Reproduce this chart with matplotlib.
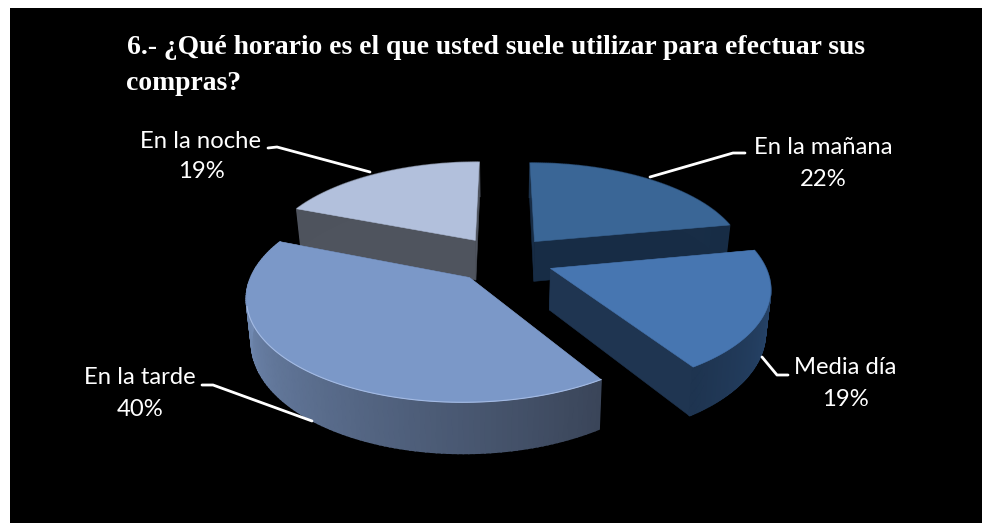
import numpy as np
import matplotlib
matplotlib.use("Agg")
import matplotlib.pyplot as plt
from matplotlib.patches import Polygon, Rectangle
from matplotlib.colors import to_rgb

# Survey results, clockwise from twelve o'clock
categories = ["En la mañana", "Media día", "En la tarde", "En la noche"]
values = [22, 19, 40, 19]
title_lines = ["6.- ¿Qué horario es el que usted suele utilizar para efectuar sus", "compras?"]

# Slice colours: top face, side colour at the start and at the end of the arc, radial wall
top_colors = ["#3a6696", "#4776b1", "#7b98c8", "#b2c0dc"]
side_start = ["#1a3049", "#2b4d78", "#3a4559", "#4e535d"]
side_end = ["#172c45", "#1e3450", "#7d99c6", "#4e535d"]
wall_colors = ["#172c45", "#1f3551", "#3a4559", "#4f545e"]

# Projection of the tilted pie onto the page
CX, CY = 503.0, 259.0
RX, RY = 212.0, 97.0
PERSPECTIVE = 0.167
DEPTH = 41.0
EXPLODE = 0.24


def project(u, v):
    k = 1.0 / (1.0 + PERSPECTIVE * v)
    return CX + RX * u * k, CY - RY * v * k, k


def lower(x, y, k):
    return CX + (x - CX) * 0.98, y + DEPTH * k


fig = plt.figure(figsize=(9.82, 5.23), dpi=100, facecolor="white")
ax = fig.add_axes([0, 0, 1, 1])
ax.set_xlim(0, 982)
ax.set_ylim(523, 0)
ax.axis("off")
ax.add_patch(Rectangle((10, 8), 972, 515, facecolor="black", edgecolor="none", zorder=0))

fractions = np.array(values) / sum(values)
edges = np.concatenate([[0], np.cumsum(fractions)]) * 2 * np.pi

# Back slices are painted first so the front ones overlap them
for order, i in enumerate([0, 3, 2, 1]):
    a0, a1 = edges[i], edges[i + 1]
    mid = (a0 + a1) / 2
    eu, ev = EXPLODE * np.sin(mid), EXPLODE * np.cos(mid)
    angles = np.linspace(a0, a1, 121)
    z = 2 + order

    xs, ys, ks = project(eu + np.sin(angles), ev + np.cos(angles))
    ax_, ay_, ak_ = project(eu, ev)
    lx, ly = lower(xs, ys, ks)
    alx, aly = lower(ax_, ay_, ak_)

    # Radial walls
    for px, py, qx, qy in [(xs[0], ys[0], lx[0], ly[0]), (xs[-1], ys[-1], lx[-1], ly[-1])]:
        ax.add_patch(Polygon([(ax_, ay_), (px, py), (qx, qy), (alx, aly)],
                             closed=True, facecolor=wall_colors[i], edgecolor=wall_colors[i],
                             linewidth=0.4, zorder=z))

    # Outer rim, shaded along the arc
    c0, c1 = np.array(to_rgb(side_start[i])), np.array(to_rgb(side_end[i]))
    for j in range(len(angles) - 1):
        t = j / (len(angles) - 2)
        col = c0 + (c1 - c0) * t
        ax.add_patch(Polygon([(xs[j], ys[j]), (xs[j + 1], ys[j + 1]), (lx[j + 1], ly[j + 1]), (lx[j], ly[j])],
                             closed=True, facecolor=col, edgecolor=col, linewidth=1.2, zorder=z))

    # Top face
    ax.add_patch(Polygon(np.column_stack([np.r_[ax_, xs], np.r_[ay_, ys]]), closed=True,
                         facecolor=top_colors[i], edgecolor=top_colors[i], linewidth=0.4, zorder=z + 0.5))

    # Light edge along the near rim of the largest slice
    if i == 2:
        ax.plot(xs[:90], ys[:90], color="#a4bbe4", lw=0.8, zorder=z + 0.6)

# Title
title_font = dict(family="Liberation Serif", fontweight="bold", color="white", fontsize=19.9,
                  ha="left", va="center", zorder=20)
ax.text(127, 47, title_lines[0], **title_font)
ax.text(126, 83, title_lines[1], **title_font)

# Data labels
label_centres = [(823, 147, 179), (845, 368, 399), (140, 378, 409), (201, 142, 172)]
for name, val, (lx_, ly1, ly2) in zip(categories, values, label_centres):
    for text, yy in ((name, ly1), (f"{val}%", ly2)):
        ax.text(lx_, yy, text, family="Lato", color="white", fontsize=17.2,
                ha="center", va="center", zorder=20)

# Leader lines
leaders = [
    [(745, 153), (733, 153), (650, 177)],
    [(788, 375), (777, 375), (762, 357)],
    [(202, 385), (213, 385), (312, 421)],
    [(268, 148), (277, 147), (370, 172)],
]
for path in leaders:
    ax.plot(*zip(*path), color="white", lw=2, solid_capstyle="round", zorder=20)

fig.savefig("out.png", dpi=100, facecolor=fig.get_facecolor())
